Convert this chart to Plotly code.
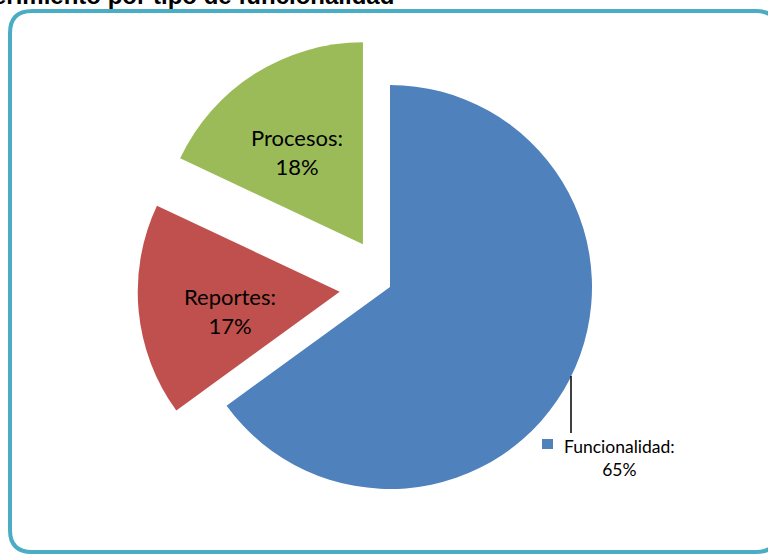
import plotly.graph_objects as go

# ---- data ----
categories = ["Funcionalidad", "Reportes", "Procesos"]
values = [65, 17, 18]
colors = ["#4F81BD", "#C0504D", "#9BBB59"]
pulls = [0, 0.25, 0.25]
title_text = "Requerimiento por tipo de funcionalidad"

W, H = 768, 554


def X(px):
    return px / W


def Y(py):
    return 1 - py / H


# pie geometry (pixels): centre and radius
cx, cy, r = 390, 287, 202
half = r * (1 + max(pulls))

fig = go.Figure()
fig.add_trace(go.Pie(
    labels=categories,
    values=values,
    marker=dict(colors=colors, line=dict(width=0)),
    pull=pulls,
    sort=False,
    direction="clockwise",
    rotation=0,
    textinfo="none",
    hoverinfo="label+percent",
    showlegend=False,
    domain=dict(x=[X(cx - half), X(cx + half)], y=[Y(cy + half), Y(cy - half)]),
))

total = sum(values)
pct = [round(v / total * 100) for v in values]

label_font = dict(family="Lato, Calibri, sans-serif", size=22, color="black")
annotations = [
    dict(x=X(297), y=Y(151.5), xref="paper", yref="paper",
         text=f"{categories[2]}:<br>{pct[2]}%", showarrow=False,
         xanchor="center", yanchor="middle", font=label_font),
    dict(x=X(230), y=Y(310.5), xref="paper", yref="paper",
         text=f"{categories[1]}:<br>{pct[1]}%", showarrow=False,
         xanchor="center", yanchor="middle", font=label_font),
    dict(x=X(619), y=Y(458), xref="paper", yref="paper",
         text=f"{categories[0]}:<br>{pct[0]}%", showarrow=False,
         xanchor="center", yanchor="middle",
         font=dict(family="Lato, Calibri, sans-serif", size=17.5, color="black")),
    dict(x=X(396), y=Y(-5), xref="paper", yref="paper",
         text=f"<b>{title_text}</b>", showarrow=False,
         xanchor="right", yanchor="middle",
         font=dict(family="Liberation Sans, Arial, sans-serif", size=24, color="black")),
]

# rounded frame
L, T, R, B, rad = 10, 11, 778, 552, 22
path = (
    f"M {X(L)} {Y(T + rad)} Q {X(L)} {Y(T)} {X(L + rad)} {Y(T)} "
    f"L {X(R - rad)} {Y(T)} Q {X(R)} {Y(T)} {X(R)} {Y(T + rad)} "
    f"L {X(R)} {Y(B - rad)} Q {X(R)} {Y(B)} {X(R - rad)} {Y(B)} "
    f"L {X(L + rad)} {Y(B)} Q {X(L)} {Y(B)} {X(L)} {Y(B - rad)} Z"
)
shapes = [
    dict(type="path", xref="paper", yref="paper", path=path,
         line=dict(color="#4BACC6", width=4), fillcolor="rgba(0,0,0,0)", layer="above"),
    # leader line for Funcionalidad
    dict(type="line", xref="paper", yref="paper",
         x0=X(571), y0=Y(376), x1=X(571), y1=Y(433),
         line=dict(color="black", width=1.5)),
    # legend key square
    dict(type="rect", xref="paper", yref="paper",
         x0=X(542), y0=Y(439), x1=X(553), y1=Y(449),
         line=dict(width=0), fillcolor=colors[0]),
]

fig.update_layout(
    width=W, height=H,
    margin=dict(l=0, r=0, t=0, b=0),
    paper_bgcolor="white", plot_bgcolor="white",
    annotations=annotations,
    shapes=shapes,
)

fig.write_html("out.html")
